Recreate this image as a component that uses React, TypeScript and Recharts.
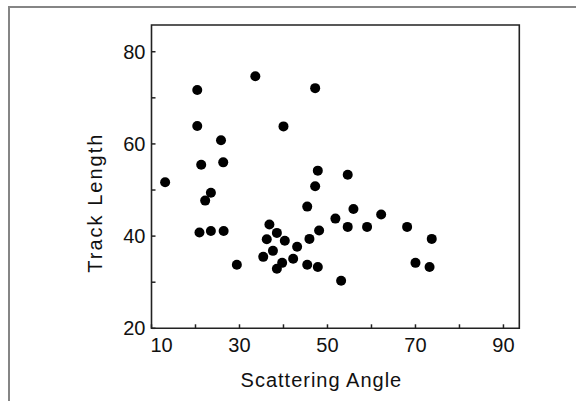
import { ScatterChart, Scatter, XAxis, YAxis, ReferenceArea } from "recharts";

// scattering angle (deg) and track length for each event
const angles = [
  13.1, 20.4, 20.4, 25.8, 21.3, 26.3, 33.6, 47.2, 40.0, 47.8, 47.2,
  23.5, 22.2, 20.9, 23.5, 26.4, 29.4, 45.4, 51.8, 36.8, 38.5, 48.1,
  36.2, 40.3, 45.9, 43.1, 37.6, 35.4, 42.2, 39.7, 38.5, 45.4, 47.8,
  54.6, 55.9, 62.2, 54.6, 59.0, 68.1, 73.7, 70.0, 73.2, 53.1,
];
const lengths = [
  51.7, 71.7, 63.9, 60.8, 55.5, 56.0, 74.7, 72.1, 63.8, 54.2, 50.8,
  49.4, 47.7, 40.8, 41.1, 41.1, 33.8, 46.4, 43.8, 42.5, 40.7, 41.2,
  39.3, 39.0, 39.4, 37.7, 36.8, 35.5, 35.1, 34.2, 32.9, 33.8, 33.3,
  53.3, 45.9, 44.7, 42.0, 42.0, 42.0, 39.4, 34.2, 33.3, 30.3,
];

const xTicks = [10, 20, 30, 40, 50, 60, 70, 80, 90];
const xTickLabels = [10, 30, 50, 70, 90];
const yTicks = [20, 30, 40, 50, 60, 70, 80];
const yTickLabels = [20, 40, 60, 80];

const xDomain: [number, number] = [10, 93.6];
const yDomain: [number, number] = [20, 85.8];

const points = angles.map((a, i) => ({ x: a, y: lengths[i] }));

const font = "'Liberation Sans', Arial, sans-serif";
const ink = "#222";

function XTick(props: any) {
  const { x, y, payload } = props;
  const axisY = y - 6;
  const v = payload.value;
  const first = v === xTicks[0];
  return (
    <g>
      <line x1={x} y1={axisY} x2={x} y2={axisY - 4} stroke={ink} strokeWidth={1.5} />
      {xTickLabels.includes(v) && (
        <text
          x={first ? x - 1 : x}
          y={axisY + 24}
          textAnchor={first ? "start" : "middle"}
          fontFamily={font}
          fontSize={20}
          fill="#111"
        >
          {v}
        </text>
      )}
    </g>
  );
}

function YTick(props: any) {
  const { x, y, payload } = props;
  const axisX = x + 6;
  const v = payload.value;
  return (
    <g>
      <line x1={axisX} y1={y} x2={axisX + 4} y2={y} stroke={ink} strokeWidth={1.5} />
      {yTickLabels.includes(v) && (
        <text x={x} y={y + 7} textAnchor="end" fontFamily={font} fontSize={20} fill="#111">
          {v}
        </text>
      )}
    </g>
  );
}

function Dot(props: any) {
  return <circle cx={props.cx} cy={props.cy} r={5} fill="#000" />;
}

export default function App() {
  return (
    <div
      style={{
        position: "absolute",
        left: 0,
        top: 0,
        width: 576,
        height: 401,
        overflow: "hidden",
        background: "#fff",
      }}
    >
      {/* outer panel frame, only top and left edges are visible */}
      <div
        style={{
          position: "absolute",
          left: 8,
          top: 6,
          width: 600,
          height: 420,
          borderTop: "2px solid #858585",
          borderLeft: "2px solid #858585",
        }}
      />
      <div style={{ position: "absolute", left: 0, top: 0 }}>
        <ScatterChart
          width={576}
          height={401}
          margin={{ top: 25, right: 56.7, bottom: 22.7, left: 91.5 }}
        >
          <XAxis
            dataKey="x"
            type="number"
            domain={xDomain}
            ticks={xTicks}
            interval={0}
            allowDataOverflow
            axisLine={false}
            tickLine={false}
            tickSize={0}
            tickMargin={6}
            height={50}
            tick={<XTick />}
            label={(p: any) => {
              const vb = p.viewBox || { x: 151.5, width: 368, y: 328.3 };
              return (
                <text
                  x={vb.x + vb.width / 2 - 14}
                  y={vb.y + 58.5}
                  textAnchor="middle"
                  fontFamily={font}
                  fontSize={20}
                  letterSpacing={1}
                  fill="#111"
                >
                  Scattering Angle
                </text>
              );
            }}
          />
          <YAxis
            dataKey="y"
            type="number"
            domain={yDomain}
            ticks={yTicks}
            interval={0}
            allowDataOverflow
            axisLine={false}
            tickLine={false}
            tickSize={0}
            tickMargin={6}
            width={60}
            tick={<YTick />}
            label={(p: any) => {
              const vb = p.viewBox || { x: 91.5, y: 25, height: 303.3 };
              const cx = vb.x + 10.5;
              const cy = vb.y + vb.height / 2 + 26;
              return (
                <text
                  x={cx}
                  y={cy}
                  transform={`rotate(-90, ${cx}, ${cy})`}
                  textAnchor="middle"
                  fontFamily={font}
                  fontSize={20}
                  letterSpacing={2}
                  fill="#111"
                >
                  Track Length
                </text>
              );
            }}
          />
          <ReferenceArea
            x1={xDomain[0]}
            x2={xDomain[1]}
            y1={yDomain[0]}
            y2={yDomain[1]}
            fill="none"
            fillOpacity={0}
            stroke={ink}
            strokeWidth={1.6}
            ifOverflow="visible"
          />
          <Scatter data={points} shape={<Dot />} isAnimationActive={false} />
        </ScatterChart>
      </div>
    </div>
  );
}
